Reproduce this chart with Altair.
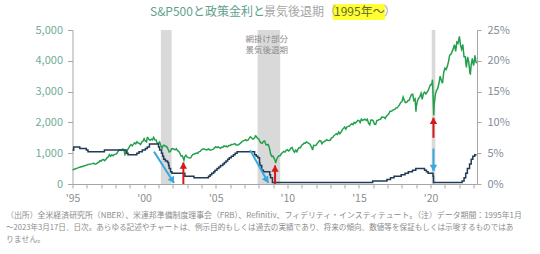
import altair as alt
import pandas as pd

# ---------------- data ----------------
# S&P 500 month-end closes (Jan..Dec), 1995-2022, plus 2023 Jan-Feb
sp_start_year = 1995
sp_month_closes = [
    [470, 487, 501, 515, 533, 545, 562, 562, 584, 582, 605, 616],
    [636, 640, 645, 654, 669, 671, 640, 652, 687, 705, 757, 741],
    [786, 791, 757, 801, 848, 885, 954, 899, 947, 915, 955, 970],
    [980, 1049, 1102, 1112, 1091, 1134, 1121, 957, 1017, 1099, 1164, 1229],
    [1280, 1238, 1286, 1335, 1302, 1373, 1329, 1320, 1283, 1363, 1389, 1469],
    [1394, 1366, 1499, 1452, 1421, 1455, 1431, 1518, 1437, 1429, 1315, 1320],
    [1366, 1240, 1160, 1249, 1256, 1224, 1211, 1134, 1041, 1060, 1139, 1148],
    [1130, 1107, 1147, 1077, 1067, 990, 912, 916, 815, 886, 936, 880],
    [856, 841, 848, 917, 964, 975, 990, 1008, 996, 1051, 1058, 1112],
    [1131, 1145, 1126, 1107, 1121, 1141, 1102, 1104, 1115, 1130, 1174, 1212],
    [1181, 1204, 1181, 1157, 1192, 1191, 1234, 1220, 1229, 1207, 1249, 1248],
    [1280, 1281, 1295, 1311, 1270, 1270, 1277, 1304, 1336, 1378, 1401, 1418],
    [1438, 1407, 1421, 1482, 1531, 1503, 1455, 1474, 1527, 1549, 1481, 1468],
    [1379, 1331, 1323, 1386, 1400, 1280, 1267, 1283, 1166, 969, 896, 903],
    [826, 735, 798, 873, 919, 919, 987, 1021, 1057, 1036, 1096, 1115],
    [1074, 1104, 1169, 1187, 1089, 1031, 1102, 1049, 1141, 1183, 1181, 1258],
    [1286, 1327, 1326, 1364, 1345, 1321, 1292, 1219, 1131, 1253, 1247, 1258],
    [1312, 1366, 1408, 1398, 1310, 1362, 1379, 1407, 1441, 1412, 1416, 1426],
    [1498, 1515, 1569, 1598, 1631, 1606, 1686, 1633, 1682, 1757, 1806, 1848],
    [1783, 1859, 1872, 1884, 1924, 1960, 1931, 2003, 1972, 2018, 2068, 2059],
    [1995, 2105, 2068, 2086, 2107, 2063, 2104, 1972, 1920, 2079, 2080, 2044],
    [1940, 1932, 2060, 2065, 2097, 2099, 2174, 2171, 2168, 2126, 2199, 2239],
    [2279, 2364, 2363, 2384, 2412, 2423, 2470, 2472, 2519, 2575, 2648, 2674],
    [2824, 2714, 2641, 2648, 2705, 2718, 2816, 2902, 2914, 2711, 2760, 2507],
    [2704, 2784, 2834, 2946, 2752, 2942, 2980, 2926, 2977, 3038, 3141, 3231],
    [3226, 2954, 2585, 2912, 3044, 3100, 3271, 3500, 3363, 3270, 3622, 3756],
    [3714, 3811, 3973, 4181, 4204, 4298, 4395, 4523, 4308, 4605, 4567, 4766],
    [4516, 4374, 4530, 4132, 4132, 3785, 4130, 3955, 3586, 3872, 4080, 3840],
    [4077, 3970],
]
# notable intra-month points (fractional year, level)
sp_extra_t = [1995.0, 2000.23, 2002.78, 2007.77, 2009.18, 2011.76, 2018.98,
              2020.13, 2020.22, 2022.01, 2022.78, 2023.09, 2023.21]
sp_extra_v = [459, 1527, 777, 1565, 676, 1099, 2351,
              3386, 2237, 4797, 3577, 4180, 3917]

# Fed policy rate (upper target, %) with change dates
rate_dates = ["1995-01-01", "1995-02-01", "1995-07-06", "1995-12-19", "1996-01-31", "1997-03-25",
              "1998-09-29", "1998-10-15", "1998-11-17", "1999-06-30", "1999-08-24", "1999-11-16",
              "2000-02-02", "2000-03-21", "2000-05-16", "2001-01-03", "2001-01-31", "2001-03-20",
              "2001-04-18", "2001-05-15", "2001-06-27", "2001-08-21", "2001-09-17", "2001-10-02",
              "2001-11-06", "2001-12-11", "2002-11-06", "2003-06-25", "2004-06-30", "2004-08-10",
              "2004-09-21", "2004-11-10", "2004-12-14", "2005-02-02", "2005-03-22", "2005-05-03",
              "2005-06-30", "2005-08-09", "2005-09-20", "2005-11-01", "2005-12-13", "2006-01-31",
              "2006-03-28", "2006-05-10", "2006-06-29", "2007-09-18", "2007-10-31", "2007-12-11",
              "2008-01-22", "2008-01-30", "2008-03-18", "2008-04-30", "2008-10-08", "2008-10-29",
              "2008-12-16", "2015-12-16", "2016-12-14", "2017-03-15", "2017-06-14", "2017-12-13",
              "2018-03-21", "2018-06-13", "2018-09-26", "2018-12-19", "2019-07-31", "2019-09-18",
              "2019-10-30", "2020-03-03", "2020-03-15", "2022-03-16", "2022-05-04", "2022-06-15",
              "2022-07-27", "2022-09-21", "2022-11-02", "2022-12-14", "2023-02-01", "2023-03-17"]
rate_values = [5.5, 6.0, 5.75, 5.5, 5.25, 5.5,
               5.25, 5.0, 4.75, 5.0, 5.25, 5.5,
               5.75, 6.0, 6.5, 6.0, 5.5, 5.0,
               4.5, 4.0, 3.75, 3.5, 3.0, 2.5,
               2.0, 1.75, 1.25, 1.0, 1.25, 1.5,
               1.75, 2.0, 2.25, 2.5, 2.75, 3.0,
               3.25, 3.5, 3.75, 4.0, 4.25, 4.5,
               4.75, 5.0, 5.25, 4.75, 4.5, 4.25,
               3.5, 3.0, 2.25, 2.0, 1.5, 1.0,
               0.25, 0.5, 0.75, 1.0, 1.25, 1.5,
               1.75, 2.0, 2.25, 2.5, 2.25, 2.0,
               1.75, 1.25, 0.25, 0.5, 1.0, 1.75,
               2.5, 3.25, 4.0, 4.5, 4.75, 4.75]

# recessions (NBER), fractional years
rec_start = [2001.17, 2007.92, 2020.08]
rec_end = [2001.92, 2009.50, 2020.33]

# arrows (in S&P-axis units)
red_x = [2002.74, 2009.14, 2020.20]
red_y0 = [0, 0, 1500]
red_y1 = [700, 600, 2150]
blue_x0 = [2000.69, 2007.40]
blue_y0 = [1050, 1100]
blue_x1 = [2002.09, 2008.67]
blue_y1 = [30, 40]
blue_v_x = [2020.20]
blue_v_y0 = [1150]
blue_v_y1 = [420]

x_ticks = list(range(1995, 2024))
sp_ticks = [0, 1000, 2000, 3000, 4000, 5000]
rate_ticks = [0, 5, 10, 15, 20, 25]

title_parts = ["S&P500と政策金利と", "景気後退期（", "1995年〜", "）"]
note_lines = ["網掛け部分", "景気後退期"]
foot_lines = [
    "（出所）全米経済研究所（NBER）、米連邦準備制度理事会（FRB）、Refinitiv、フィデリティ・インスティテュート。（注）データ期間：1995年1月",
    "～2023年3月17日、日次。あらゆる記述やチャートは、例示目的もしくは過去の実績であり、将来の傾向、数値等を保証もしくは示唆するものではあ",
    "りません。",
]

# ---------------- tables ----------------
sp_t, sp_v = [], []
for i, row in enumerate(sp_month_closes):
    for m, v in enumerate(row):
        sp_t.append(sp_start_year + i + (m + 1) / 12)
        sp_v.append(v)
sp_t += sp_extra_t
sp_v += sp_extra_v
sp_df = pd.DataFrame({"t": sp_t, "v": sp_v}).sort_values("t")

rd = pd.to_datetime(pd.Series(rate_dates))
rate_df = pd.DataFrame({"t": rd.dt.year + (rd.dt.dayofyear - 1) / 365.25, "r": rate_values})
rec_df = pd.DataFrame({"s": rec_start, "e": rec_end})
red_df = pd.DataFrame({"x": red_x, "y0": red_y0, "y1": red_y1})
blue_df = pd.DataFrame({"x0": blue_x0, "y0": blue_y0, "x1": blue_x1, "y1": blue_y1})
bluev_df = pd.DataFrame({"x": blue_v_x, "y0": blue_v_y0, "y1": blue_v_y1})
one = pd.DataFrame({"k": [0]})

# ---------------- styling ----------------
FONT = "Noto Sans CJK JP"
GRAY_AX = "#a6a6a6"
GREEN = "#23a04c"
NAVY = "#1f3b57"
RED = "#d7191c"
BLUE = "#3aa8df"

x_scale = alt.Scale(domain=[1995, 2023.24], nice=False, zero=False)
sp_scale = alt.Scale(domain=[0, 5000], nice=False)
rt_scale = alt.Scale(domain=[0, 25], nice=False)

x_axis = alt.Axis(values=x_ticks, title=None, grid=False,
                  labelExpr="datum.value % 5 == 0 ? \"'\" + slice(toString(datum.value), 2) : ''",
                  labelOverlap=False, labelFlush=False, tickSize=4, tickColor=GRAY_AX,
                  domainColor=GRAY_AX, labelColor="#8c8c8c", labelFontSize=10.5,
                  labelPadding=5, labelFont=FONT)


def X(field):
    return alt.X(field, type="quantitative", scale=x_scale, axis=x_axis)


def YS(field):
    return alt.Y(field, type="quantitative", scale=sp_scale, axis=None)


bands = alt.Chart(rec_df).mark_rect(color="#d9d9d9").encode(
    x=X("s"), x2="e")

sp_line = alt.Chart(sp_df).mark_line(color=GREEN, strokeWidth=1.5).encode(
    x=X("t"),
    y=alt.Y("v:Q", scale=sp_scale,
            axis=alt.Axis(orient="left", values=sp_ticks, labelExpr="format(datum.value, ',.0f')",
                          title=None, grid=False,
                          tickSize=5, labelPadding=5, tickColor=GRAY_AX, domainColor=GRAY_AX,
                          labelColor="#72ad94", labelFontSize=11, labelFont=FONT)))

rate_line = alt.Chart(rate_df).mark_line(color=NAVY, strokeWidth=1.5, interpolate="step-after").encode(
    x=X("t"),
    y=alt.Y("r:Q", scale=rt_scale,
            axis=alt.Axis(orient="right", values=rate_ticks, labelExpr="datum.value + '%'",
                          title=None, grid=False, tickSize=4, labelPadding=6,
                          tickColor=GRAY_AX, domainColor=GRAY_AX, labelColor="#7f8e9a",
                          labelFontSize=11, labelFont=FONT)))

red_shaft = alt.Chart(red_df).mark_rule(color=RED, strokeWidth=2).encode(
    x=X("x"), y=YS("y0"), y2="y1")
red_head = alt.Chart(red_df).mark_point(shape="triangle-up", filled=True, size=55, opacity=1,
                                        color=RED, yOffset=3).encode(x=X("x"), y=YS("y1"))

blue_shaft = alt.Chart(blue_df).mark_rule(color=BLUE, strokeWidth=2).encode(
    x=X("x0"), x2="x1", y=YS("y0"), y2="y1")
blue_head = alt.Chart(blue_df).mark_point(shape="triangle-up", filled=True, size=55, opacity=1,
                                          color=BLUE, angle=149, xOffset=-1.6, yOffset=-2.6).encode(
    x=X("x1"), y=YS("y1"))

bluev_shaft = alt.Chart(bluev_df).mark_rule(color=BLUE, strokeWidth=2).encode(
    x=X("x"), y=YS("y0"), y2="y1")
bluev_head = alt.Chart(bluev_df).mark_point(shape="triangle-down", filled=True, size=55, opacity=1,
                                            color=BLUE, yOffset=-3).encode(x=X("x"), y=YS("y1"))

# text (pixel positions relative to plot origin at (72.5, 30))
OX, OY = 72.5, 30


def txt(s, px, py, size, color, align="left"):
    return alt.Chart(one).mark_text(text=s, align=align, baseline="middle", fontSize=size,
                                    color=color, font=FONT).encode(
        x=alt.value(px - OX), y=alt.value(py - OY))


highlight = alt.Chart(one).mark_rect(color="#ffff33").encode(
    x=alt.value(332.5 - OX), x2=alt.value(385 - OX), y=alt.value(4 - OY), y2=alt.value(20 - OY))

texts = [
    highlight,
    txt(title_parts[0], 150, 12, 12, "#5f9f8c"),
    txt(title_parts[1], 264, 12, 12, "#a6a6a6"),
    txt(title_parts[2], 334, 12, 12, "#5e6a2a"),
    txt(title_parts[3], 384, 12, 12, "#a6a6a6"),
    txt(note_lines[0], 266.7, 39, 8.5, "#8c8c8c", "center"),
    txt(note_lines[1], 266.7, 49.7, 8.5, "#8c8c8c", "center"),
    txt(foot_lines[0], 6, 216, 7.9, "#8c8c8c"),
    txt(foot_lines[1], 6, 228, 7.6, "#8c8c8c"),
    txt(foot_lines[2], 6, 240, 7.9, "#8c8c8c"),
]

chart = alt.layer(
    bands, sp_line, rate_line,
    red_shaft, red_head, blue_shaft, blue_head, bluev_shaft, bluev_head,
    *texts
).resolve_scale(y="independent").properties(
    width=404.5, height=154,
    autosize=alt.AutoSizeParams(type="none"),
    padding={"left": 72.5, "top": 30, "right": 63, "bottom": 70},
    background="white",
).configure_view(stroke=None)

chart.save("out.html", embed_options={"renderer": "svg", "actions": False})
